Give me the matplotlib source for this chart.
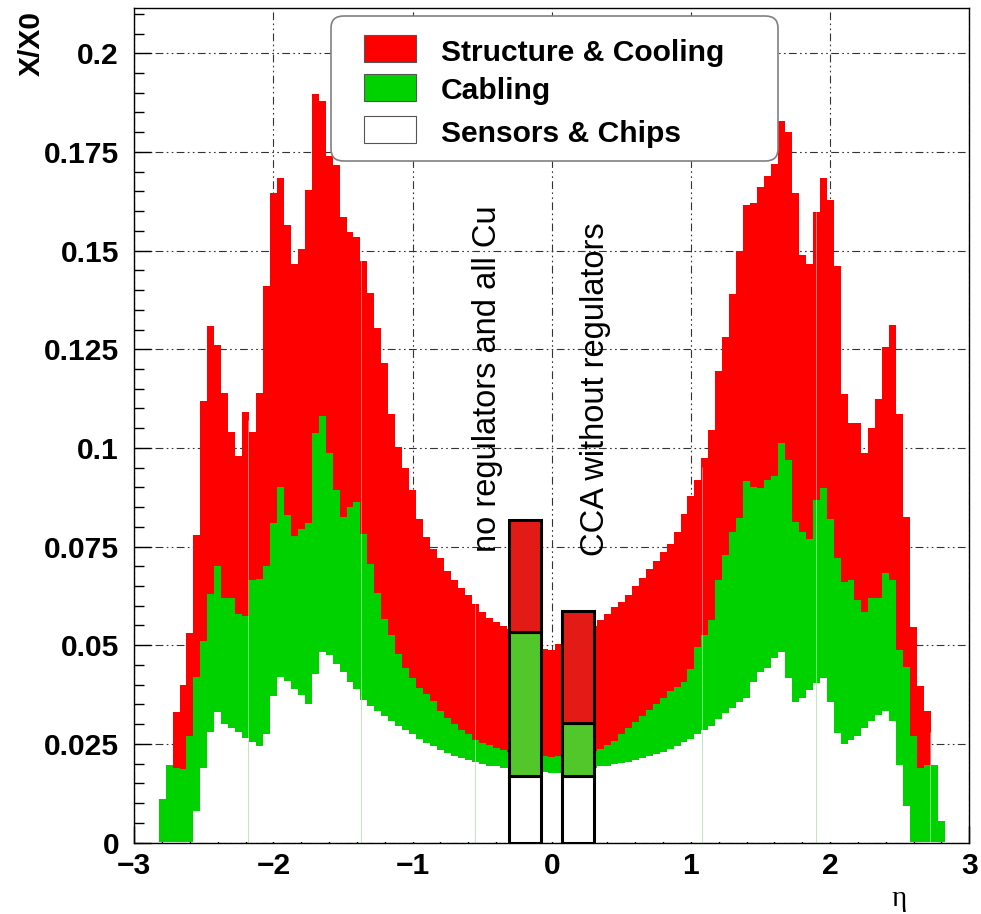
import numpy as np
import matplotlib as mpl
mpl.use('Agg')
import matplotlib.pyplot as plt
from matplotlib import font_manager
from matplotlib.patches import FancyBboxPatch, Rectangle

# material budget vs eta (upper edges of each stacked layer)
eta = np.linspace(-2.85, 2.85, 115)

total = [0.000, 0.011, 0.0197, 0.033, 0.040, 0.053, 0.078, 0.112, 0.131, 0.126,
         0.114, 0.104, 0.098, 0.109, 0.104, 0.114, 0.141, 0.1647, 0.1684, 0.1566,
         0.1467, 0.1504, 0.1653, 0.1896, 0.1880, 0.174, 0.1716, 0.1585, 0.1548, 0.1535,
         0.1473, 0.1392, 0.1305, 0.1214, 0.1087, 0.1003, 0.095, 0.0894, 0.0819, 0.0775,
         0.0745, 0.072, 0.0688, 0.0664, 0.0645, 0.0626, 0.0604, 0.0585, 0.057, 0.0558,
         0.0549, 0.0542, 0.0535, 0.053, 0.0522, 0.051, 0.049, 0.0488, 0.0502, 0.0515,
         0.0525, 0.0532, 0.054, 0.0549, 0.0564, 0.0578, 0.0596, 0.061, 0.0626, 0.065,
         0.067, 0.0693, 0.0713, 0.0736, 0.0757, 0.0788, 0.0832, 0.0878, 0.0919, 0.0975,
         0.1045, 0.1195, 0.128, 0.139, 0.150, 0.1616, 0.162, 0.166, 0.1688, 0.172,
         0.1828, 0.1800, 0.1647, 0.1488, 0.1465, 0.1597, 0.1684, 0.1628, 0.146, 0.1137,
         0.1062, 0.1062, 0.0987, 0.105, 0.1124, 0.1255, 0.1311, 0.1087, 0.0825, 0.0545,
         0.0396, 0.0334, 0.0197, 0.0054, 0.000]

cabling_top = [0.000, 0.011, 0.0197, 0.019, 0.0185, 0.027, 0.042, 0.051, 0.063, 0.070,
               0.062, 0.062, 0.058, 0.0575, 0.0665, 0.0668, 0.070, 0.081, 0.090, 0.083,
               0.0776, 0.0795, 0.081, 0.1037, 0.1081, 0.0987, 0.0894, 0.0825, 0.085, 0.0863,
               0.0782, 0.0707, 0.0632, 0.0566, 0.0527, 0.0477, 0.0442, 0.0417, 0.0392, 0.0377,
               0.0359, 0.0334, 0.0315, 0.030, 0.0286, 0.0274, 0.0261, 0.0253, 0.0247, 0.024,
               0.0234, 0.023, 0.0228, 0.0226, 0.0224, 0.0222, 0.022, 0.0217, 0.0218, 0.022,
               0.0224, 0.0227, 0.023, 0.0233, 0.0238, 0.0247, 0.0256, 0.0274, 0.029, 0.0305,
               0.032, 0.0336, 0.0352, 0.0367, 0.0383, 0.0395, 0.0407, 0.0439, 0.0496, 0.0527,
               0.0564, 0.0666, 0.0728, 0.0788, 0.0822, 0.0915, 0.090, 0.0898, 0.0919, 0.0928,
               0.1012, 0.0969, 0.0813, 0.0786, 0.0769, 0.0869, 0.0898, 0.0819, 0.072, 0.066,
               0.0664, 0.0614, 0.0583, 0.062, 0.062, 0.0682, 0.0664, 0.0489, 0.0446, 0.0271,
               0.019, 0.0197, 0.0197, 0.0054, 0.000]

sensors_top = [0.000, 0.000, 0.000, 0.000, 0.000, 0.000, 0.008, 0.019, 0.028, 0.033,
               0.030, 0.029, 0.028, 0.0265, 0.0255, 0.0245, 0.0276, 0.037, 0.042, 0.041,
               0.039, 0.0375, 0.035, 0.0427, 0.0483, 0.0474, 0.0452, 0.0433, 0.0408, 0.039,
               0.0361, 0.0346, 0.0334, 0.0321, 0.0309, 0.0295, 0.0284, 0.0275, 0.0263, 0.0253,
               0.0244, 0.0234, 0.0228, 0.022, 0.0214, 0.0209, 0.0204, 0.0199, 0.0195, 0.0193,
               0.019, 0.0188, 0.0186, 0.0184, 0.0182, 0.018, 0.0178, 0.0175, 0.0177, 0.018,
               0.0182, 0.0184, 0.0187, 0.019, 0.0193, 0.0195, 0.0198, 0.0202, 0.0205, 0.0209,
               0.0214, 0.0218, 0.0224, 0.023, 0.0238, 0.0245, 0.0254, 0.0263, 0.0274, 0.0284,
               0.0296, 0.0312, 0.0327, 0.034, 0.0355, 0.0365, 0.0408, 0.0433, 0.0442, 0.0467,
               0.0482, 0.0417, 0.0355, 0.0366, 0.0386, 0.0405, 0.0417, 0.0355, 0.0278, 0.0249,
               0.0259, 0.027, 0.029, 0.0309, 0.0322, 0.0334, 0.0309, 0.0197, 0.0093, 0.000,
               0.000, 0.000, 0.000, 0.000, 0.000]

# thin empty bins visible as hairlines
gap_eta = [-2.18, -1.37, -0.55, 1.08, 1.90, 2.72]

# the two comparison bars
bar_eta = [-0.195, 0.188]
bar_width = 0.23
bar_sensors = [0.0169, 0.0169]
bar_cabling = [0.0533, 0.0302]
bar_total = [0.0817, 0.0587]
bar_labels = ['no regulators and all Cu', 'CCA without regulators']
bar_label_eta = [-0.465, 0.315]
bar_label_y = [0.0736, 0.0726]

legend_labels = ['Structure & Cooling', 'Cabling', 'Sensors & Chips']

yticks = [0, 0.025, 0.05, 0.075, 0.1, 0.125, 0.15, 0.175, 0.2]
ytick_labels = ['0', '0.025', '0.05', '0.075', '0.1', '0.125', '0.15', '0.175', '0.2']
xticks = [-3, -2, -1, 0, 1, 2, 3]
xtick_labels = ['\u22123', '\u22122', '\u22121', '0', '1', '2', '3']

RED = '#ff0000'
GREEN = '#00d200'
BAR_RED = '#e31b17'
BAR_GREEN = '#52c72b'

avail = {f.name for f in font_manager.fontManager.ttflist}
if 'Liberation Sans Narrow' in avail:
    narrow, narrow_size = 'Liberation Sans Narrow', 27.5
else:
    narrow, narrow_size = 'Liberation Sans', 23.5

plt.rcParams['font.family'] = ['Liberation Sans', 'DejaVu Sans']

W, H = 981, 914
fig = plt.figure(figsize=(W / 100, H / 100), dpi=100)
ax = fig.add_axes([134.3 / W, 1 - 842.5 / H, 835.0 / W, 834.2 / H])

total = np.array(total)
cabling_top = np.array(cabling_top)
sensors_top = np.array(sensors_top)

ax.fill_between(eta, 0, sensors_top, color='white', lw=0, step='mid', zorder=2)
ax.fill_between(eta, sensors_top, cabling_top, color=GREEN, lw=0, step='mid', zorder=2)
ax.fill_between(eta, cabling_top, total, color=RED, lw=0, step='mid', zorder=2)

gap_top = np.interp(gap_eta, eta, total)
gap_low = np.interp(gap_eta, eta, sensors_top)
ax.vlines(gap_eta, gap_low, gap_top, color='white', alpha=0.45, lw=0.7, zorder=3)
ax.vlines(gap_eta, 0, gap_low, color='#bfe9bf', lw=0.7, zorder=3)

# comparison bars
b = np.array(bar_sensors)
c = np.array(bar_cabling)
t = np.array(bar_total)
ax.bar(bar_eta, b, bar_width, color='white', edgecolor='black', lw=2.2, zorder=5)
ax.bar(bar_eta, c - b, bar_width, bottom=b, color=BAR_GREEN, edgecolor='black', lw=2.2, zorder=5)
ax.bar(bar_eta, t - c, bar_width, bottom=c, color=BAR_RED, edgecolor='black', lw=2.2, zorder=5)

for x, y, s in zip(bar_label_eta, bar_label_y, bar_labels):
    ax.text(x, y, s, rotation=90, ha='center', va='bottom', fontsize=narrow_size,
            family=[narrow, 'DejaVu Sans'], zorder=6)

ax.set_xlim(-3, 3)
ax.set_ylim(0, 0.2114)
ax.set_xticks(xticks)
ax.set_xticklabels(xtick_labels)
ax.set_yticks(yticks)
ax.set_yticklabels(ytick_labels)
ax.set_xticks(np.arange(-3, 3.01, 0.2), minor=True)
ax.set_yticks(np.arange(0, 0.2114, 0.005), minor=True)
ax.tick_params(which='both', direction='in', top=False, right=False, width=1)
ax.tick_params(which='major', length=12)
ax.tick_params(which='minor', length=7)
ax.tick_params(axis='y', which='major', pad=11, labelsize=21.6)
ax.tick_params(axis='x', which='major', pad=7, labelsize=21.6)
for lab in ax.get_xticklabels() + ax.get_yticklabels():
    lab.set_fontweight('bold')

ax.set_axisbelow(True)
ax.grid(True, which='major', color='#333333', lw=0.8, dashes=(7, 3, 1.5, 3, 1.5, 3))
for sp in ax.spines.values():
    sp.set_linewidth(1.0)
    sp.set_zorder(7)

fig.text(32 / W, 1 - 11 / H, 'X/X0', rotation=90, ha='center', va='top',
         fontsize=21.6, fontweight='bold')
fig.text(899 / W, 1 - 906 / H, '\u03b7', ha='center', va='baseline',
         fontsize=21, family=['Liberation Serif', 'DejaVu Serif'])

# legend box drawn in figure coordinates, ROOT style
box = FancyBboxPatch((331 / W, 1 - 161 / H), 447 / W, 145 / H,
                     boxstyle='round,pad=0,rounding_size=0.013',
                     transform=fig.transFigure, facecolor='white',
                     edgecolor='#808080', lw=1.2, zorder=10)
fig.add_artist(box)
leg_colors = [RED, GREEN, 'white']
leg_centers = [48.5, 87, 129]
leg_baselines = [61, 99.3, 141.7]
for col, yc, yb, lab in zip(leg_colors, leg_centers, leg_baselines, legend_labels):
    fig.add_artist(Rectangle((364 / W, 1 - (yc + 13.5) / H), 52 / W, 27 / H,
                             transform=fig.transFigure, facecolor=col,
                             edgecolor='#555555', lw=0.8, zorder=11))
    fig.text(441 / W, 1 - yb / H, lab, ha='left', va='baseline', fontsize=21.6,
             fontweight='bold', zorder=11)

fig.savefig('out.png', dpi=100)
